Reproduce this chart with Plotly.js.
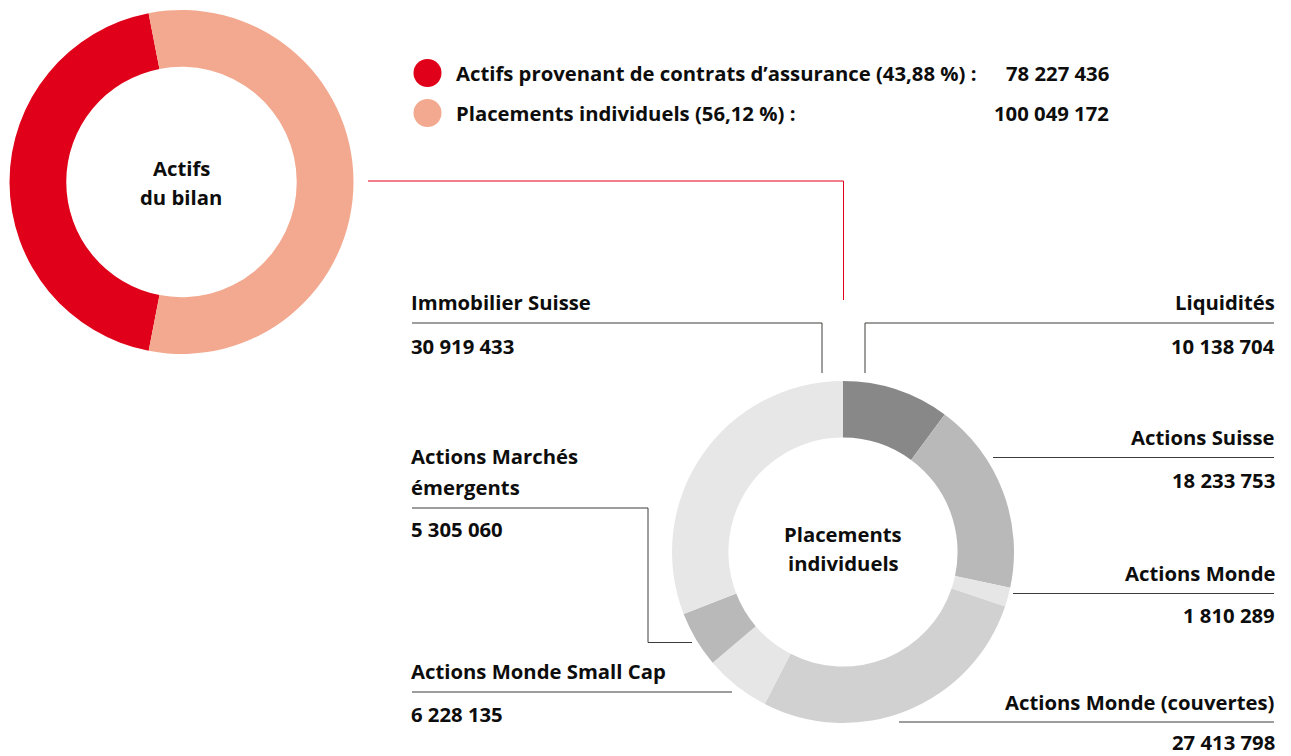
<!DOCTYPE html>
<html>
<head>
<meta charset="utf-8">
<script src="https://cdn.plot.ly/plotly-3.0.1.min.js"></script>
<style>
html,body{margin:0;padding:0;background:#fff;}
#chart{width:1291px;height:756px;}
</style>
</head>
<body>
<div id="chart"></div>
<script>
// ---- DATA ----
var bilanLabels = ["Actifs provenant de contrats d’assurance", "Placements individuels"];
var bilanValues = [78227436, 100049172];
var bilanPercents = ["43,88 %", "56,12 %"];

var placementLabels = ["Liquidités", "Actions Suisse", "Actions Monde", "Actions Monde (couvertes)",
  "Actions Monde Small Cap", "Actions Marchés émergents", "Immobilier Suisse"];
var placementValues = [10138704, 18233753, 1810289, 27413798, 6228135, 5305060, 30919433];

// ---- STYLE / LAYOUT HELPERS ----
var W = 1291, H = 756;
function px(x){ return x / W; }
function py(y){ return 1 - y / H; }
function fmt(v){ return String(v).replace(/\B(?=(\d{3})+(?!\d))/g, " "); }

var FONT = "'Open Sans', Lato, sans-serif";
var TXT = "#0d0d0d";
var FS = 20.3;
var PAD = 2; // annotation inner padding compensation

var bilanColors = ["#e00019", "#f3a98f"];
var placementColors = ["#878887", "#b8b9b8", "#e5e6e5", "#d0d1d0", "#e5e6e5", "#b8b9b8", "#e6e7e6"];

var traces = [
  {
    type: "pie", labels: bilanLabels, values: bilanValues, sort: false,
    direction: "clockwise", rotation: 191, hole: 0.67,
    marker: {colors: bilanColors, line: {width: 0}},
    textinfo: "none", hoverinfo: "label+value",
    domain: {x: [px(9.5), px(353.5)], y: [py(354), py(10)]}
  },
  {
    type: "pie", labels: placementLabels, values: placementValues, sort: false,
    direction: "clockwise", rotation: 0, hole: 0.67,
    marker: {colors: placementColors, line: {width: 0}},
    textinfo: "none", hoverinfo: "label+value",
    domain: {x: [px(672), px(1014)], y: [py(723), py(381)]}
  }
];

var annotations = [];
function ann(text, x, y, anchor, size){
  var xx = anchor === "left" ? x - PAD : (anchor === "right" ? x + PAD : x);
  annotations.push({
    text: "<b>" + text + "</b>", xref: "paper", yref: "paper",
    x: px(xx), y: py(y), xanchor: anchor, yanchor: "middle",
    showarrow: false, borderpad: 0,
    font: {family: FONT, size: size || FS, color: TXT}
  });
}

// centre texts
ann("Actifs", 181.5, 168, "center");
ann("du bilan", 181.5, 197, "center");
ann("Placements", 843, 534, "center");
ann("individuels", 843, 563, "center");

// legend texts
ann(bilanLabels[0] + " (" + bilanPercents[0] + ") :", 457, 73, "left");
ann(fmt(bilanValues[0]), 1108, 73, "right");
ann(bilanLabels[1] + " (" + bilanPercents[1] + ") :", 457, 113, "left");
ann(fmt(bilanValues[1]), 1108, 113, "right");

// slice labels: [index, nameLines, nameY list, valueY, x, anchor]
var labelPos = [
  [0, ["Liquidités"], [302], 346, 1274, "right"],
  [1, ["Actions Suisse"], [437], 480, 1274, "right"],
  [2, ["Actions Monde"], [573], 615, 1274, "right"],
  [3, ["Actions Monde (couvertes)"], [702], 742, 1274, "right"],
  [4, ["Actions Monde Small Cap"], [671], 714, 412, "left"],
  [5, ["Actions Marchés", "émergents"], [456, 487], 529, 412, "left"],
  [6, ["Immobilier Suisse"], [302], 346, 412, "left"]
];
labelPos.forEach(function(p){
  p[1].forEach(function(t, k){ ann(t, p[4], p[2][k], p[5]); });
  ann(fmt(placementValues[p[0]]), p[4], p[3], p[5]);
});

// shapes
var shapes = [];
function line(x0, y0, x1, y1, color){
  shapes.push({type: "line", xref: "paper", yref: "paper",
    x0: px(x0), y0: py(y0), x1: px(x1), y1: py(y1),
    line: {color: color || "#3c3c3b", width: 1}});
}
function dot(cx, cy, r, color){
  shapes.push({type: "circle", xref: "paper", yref: "paper",
    x0: px(cx - r), x1: px(cx + r), y0: py(cy + r), y1: py(cy - r),
    fillcolor: color, line: {width: 0}});
}
dot(427.5, 73, 14, bilanColors[0]);
dot(427.5, 113, 14, bilanColors[1]);

// red connector
line(368, 181, 843.5, 181, "#e00019");
line(843.5, 181, 843.5, 300, "#e00019");

// leader lines
line(412, 323, 822, 323); line(822, 323, 822, 373);        // Immobilier
line(865, 323, 1274, 323); line(865, 323, 865, 373);       // Liquidités
line(993, 457.5, 1274, 457.5);                            // Actions Suisse
line(1013, 593.5, 1274, 593.5);                           // Actions Monde
line(899, 722, 1274, 722);                                // couvertes
line(412, 508, 648, 508); line(648, 508, 648, 642.5); line(648, 642.5, 692, 642.5); // émergents
line(412, 692, 732, 692);                                 // Small cap

var layout = {
  width: W, height: H,
  margin: {l: 0, r: 0, t: 0, b: 0},
  paper_bgcolor: "#ffffff", plot_bgcolor: "#ffffff",
  showlegend: false,
  annotations: annotations,
  shapes: shapes
};

Plotly.newPlot("chart", traces, layout, {displayModeBar: false, staticPlot: true});
</script>
</body>
</html>
